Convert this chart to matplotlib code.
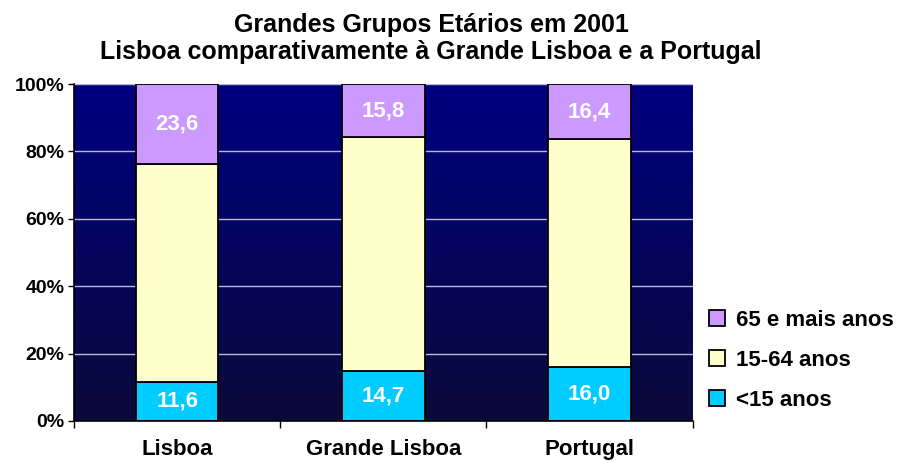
import numpy as np
import matplotlib.pyplot as plt
from matplotlib.colors import LinearSegmentedColormap

plt.rcParams["font.family"] = ["Liberation Sans", "DejaVu Sans"]
plt.rcParams["font.weight"] = "bold"

# dados
regioes = ["Lisboa", "Grande Lisboa", "Portugal"]
menos15 = [11.6, 14.7, 16.0]
idade_activa = [64.8, 69.5, 67.6]
mais65 = [23.6, 15.8, 16.4]
series = ["<15 anos", "15-64 anos", "65 e mais anos"]
cores = ["#00ccff", "#ffffcc", "#cc99ff"]

fig = plt.figure(figsize=(9.15, 4.62), dpi=100)
ax = fig.add_axes([0.081, 0.089, 0.676, 0.729])

x = np.arange(len(regioes))

# fundo em gradiente
grad = np.linspace(0, 1, 256).reshape(-1, 1)
cmap_fundo = LinearSegmentedColormap.from_list("fundo", ["#000080", "#0a0a3a"])
ax.imshow(grad, aspect="auto", cmap=cmap_fundo, extent=[-0.5, 2.5, 0, 100],
          origin="upper", zorder=0)

for y in [20, 40, 60, 80, 100]:
    ax.axhline(y, color="#b8b8d8", lw=1.0, zorder=1)

base = np.zeros(3)
valores = [menos15, idade_activa, mais65]
for vals, cor, nome in zip(valores, cores, series):
    ax.bar(x, vals, width=0.4, bottom=base, color=cor, edgecolor="black",
           linewidth=1.3, label=nome, zorder=2)
    base = base + np.array(vals)

# etiquetas dos valores
for i in range(3):
    ax.text(x[i], menos15[i] / 2, f"{menos15[i]:.1f}".replace(".", ","),
            ha="center", va="center", color="white", fontsize=16,
            fontweight="bold", zorder=3)
    topo = 100 - mais65[i] / 2
    ax.text(x[i], topo, f"{mais65[i]:.1f}".replace(".", ","),
            ha="center", va="center", color="white", fontsize=16,
            fontweight="bold", zorder=3)

ax.set_xlim(-0.5, 2.5)
ax.set_ylim(0, 100)
ax.set_yticks([0, 20, 40, 60, 80, 100])
ax.set_yticklabels(["0%", "20%", "40%", "60%", "80%", "100%"], fontsize=14,
                   fontweight="bold")
ax.tick_params(axis="y", length=4, width=1, direction="out", pad=3)

ax.set_xticks([-0.5, 0.5, 1.5, 2.5])
ax.set_xticklabels([])
ax.tick_params(axis="x", length=5, width=1, direction="out")
for i, r in enumerate(regioes):
    ax.text(x[i], -8.5, r, ha="center", va="center", fontsize=16,
            fontweight="bold", clip_on=False)

ax.spines["top"].set_visible(False)
ax.spines["right"].set_visible(False)
ax.spines["left"].set_color("black")
ax.spines["bottom"].set_color("black")
ax.spines["left"].set_linewidth(1.2)
ax.spines["bottom"].set_linewidth(1.2)

h, l = ax.get_legend_handles_labels()
fig.legend(h[::-1], l[::-1], loc="center left", bbox_to_anchor=(0.753, 0.22),
           frameon=False, handlelength=0.7, handleheight=0.7,
           handletextpad=0.5, labelspacing=0.85,
           prop={"weight": "bold", "size": 16})

fig.text(0.471, 0.946, "Grandes Grupos Etários em 2001", ha="center",
         va="center", fontsize=18, fontweight="bold")
fig.text(0.471, 0.888, "Lisboa comparativamente à Grande Lisboa e a Portugal",
         ha="center", va="center", fontsize=18, fontweight="bold")

fig.savefig("out.png", dpi=100)
